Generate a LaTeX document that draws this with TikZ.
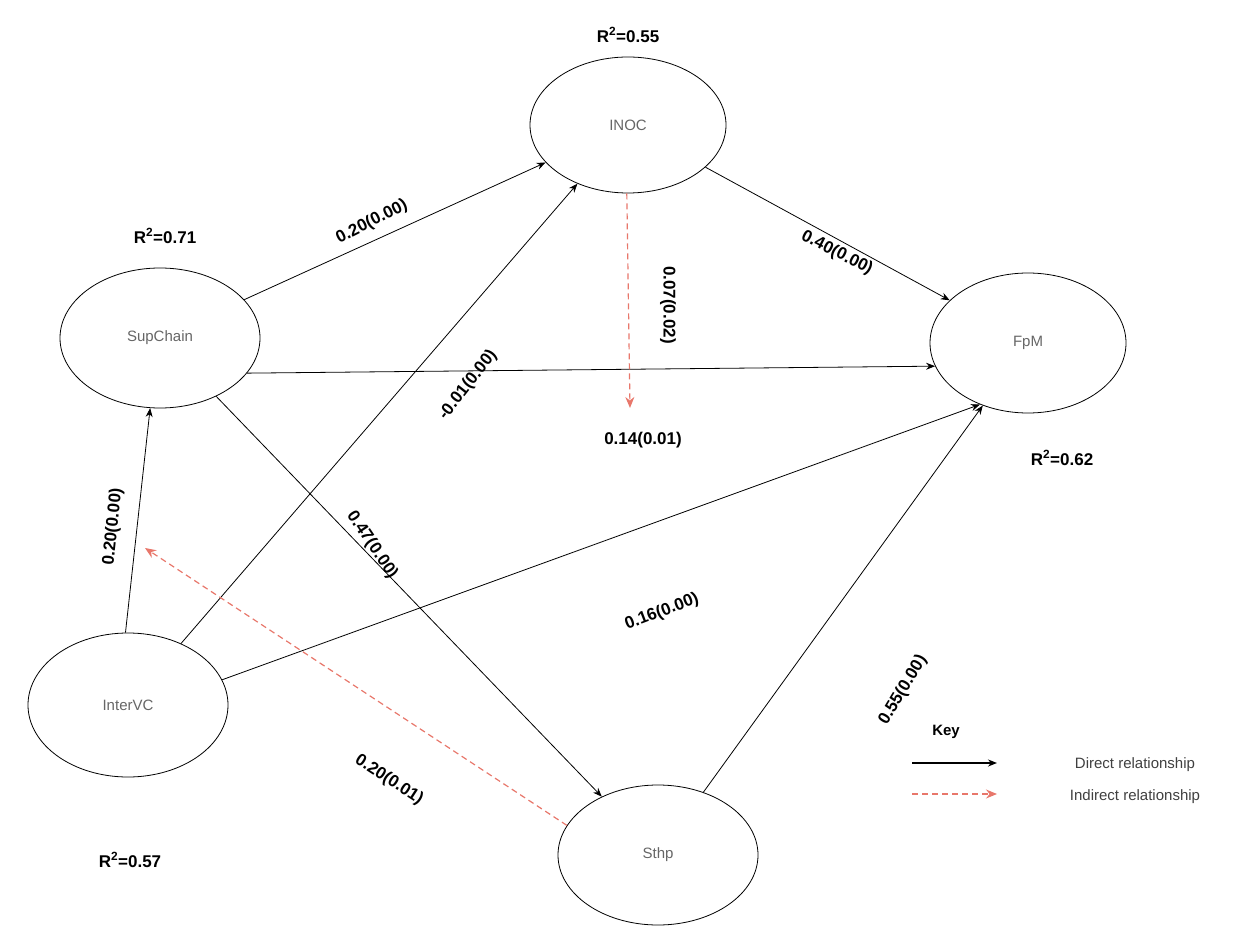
\documentclass[tikz,border=0pt]{standalone}
\usepackage{fontspec}
\setmainfont{Liberation Sans}
\usetikzlibrary{shapes.geometric,arrows.meta}
\definecolor{indred}{HTML}{E8776B}
\begin{document}
\begin{tikzpicture}[x=1pt,y=1pt,
  lv/.style={ellipse,draw,thick,text=black!60,font=\fontsize{15}{18}\selectfont},
  con/.style={-{Stealth[length=9pt,width=7pt]},thick},
  ind/.style={-{Stealth[length=11pt,width=9pt]},very thick,draw=indred,dash pattern=on 6pt off 4pt},
  lab/.style={font=\bfseries\fontsize{17}{20}\selectfont},
  keyt/.style={font=\fontsize{15}{18}\selectfont,text=black!75}]
\useasboundingbox (0,0) rectangle (1258,-949);
\node[lv,minimum width=196pt,minimum height=136pt] (inoc) at (628,-125) {INOC};
\node[lv,minimum width=200pt,minimum height=140pt] (sup) at (160,-338) {SupChain};
\node[lv,minimum width=196pt,minimum height=140pt] (fpm) at (1028,-343) {FpM};
\node[lv,minimum width=200pt,minimum height=144pt] (inter) at (128,-705) {InterVC};
\node[lv,minimum width=200pt,minimum height=140pt] (sthp) at (658,-855) {Sthp};
\coordinate (e1) at (630,-408);
\coordinate (e2) at (145,-548);
\draw[con] (sup) -- (inoc);
\draw[con] (inoc) -- (fpm);
\draw[con] (sup.-22) -- (fpm.194);
\draw[con] (sup) -- (sthp);
\draw[con] (inter.92) -- (sup.262);
\draw[con] (inter) -- (inoc);
\draw[con] (inter.15) -- (fpm.232);
\draw[con] (sthp) -- (fpm);
\draw[ind] (inoc.-91) -- (e1);
\draw[ind] (sthp.162) -- (e2);
\node[lab,rotate=27] (l1) at (372,-222) {0.20(0.00)};
\node[lab,rotate=-27] (l2) at (837,-253) {0.40(0.00)};
\node[lab,rotate=-90] (l3) at (668,-305) {0.07(0.02)};
\node[lab] (l4) at (643,-440) {0.14(0.01)};
\node[lab,rotate=-56] (l5) at (372,-545) {0.47(0.00)};
\node[lab,rotate=84] (l6) at (113,-527) {0.20(0.00)};
\node[lab,rotate=52] (l7) at (468,-385) {-0.01(0.00)};
\node[lab,rotate=21] (l8) at (662,-612) {0.16(0.00)};
\node[lab,rotate=-33] (l9) at (389,-780) {0.20(0.01)};
\node[lab,rotate=59] (l10) at (903,-690) {0.55(0.00)};
\node[lab] (r1) at (628,-35) {R\textsuperscript{2}=0.55};
\node[lab] (r2) at (165,-236) {R\textsuperscript{2}=0.71};
\node[lab] (r3) at (1062,-458) {R\textsuperscript{2}=0.62};
\node[lab] (r4) at (130,-860) {R\textsuperscript{2}=0.57};
\node[font=\bfseries\fontsize{15}{18}\selectfont] (key) at (946,-732) {Key};
\coordinate (k1) at (912,-763); \coordinate (k2) at (997,-763);
\coordinate (k3) at (912,-794); \coordinate (k4) at (997,-794);
\draw[con,line width=1.6pt] (k1) -- (k2);
\draw[ind] (k3) -- (k4);
\node[keyt] (d1) at (1135,-765) {Direct relationship};
\node[keyt] (d2) at (1135,-797) {Indirect relationship};
\end{tikzpicture}
\end{document}
